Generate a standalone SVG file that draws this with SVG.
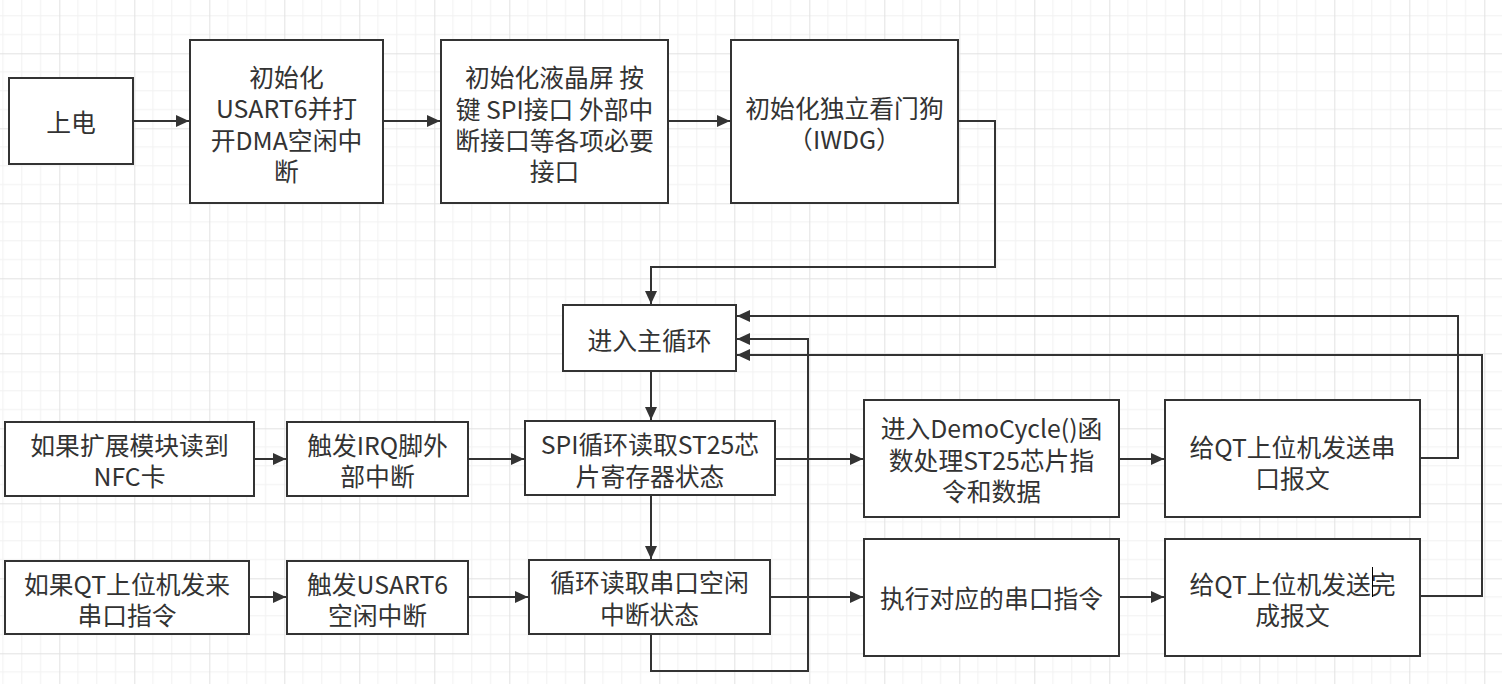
<svg xmlns="http://www.w3.org/2000/svg" width="1502" height="684" viewBox="0 0 1502 684">
<style>
.box{fill:#fff;stroke:#333;stroke-width:2}
.t{font-family:"Microsoft YaHei","Noto Sans CJK SC","Noto Sans",sans-serif;font-size:24.8px;fill:#333;text-anchor:middle;dominant-baseline:central}
.c{fill:none;stroke:#333;stroke-width:2}
.a{marker-end:url(#ar)}
</style>
<defs>
<pattern id="grid" patternUnits="userSpaceOnUse" x="59.3" y="53.3" width="75" height="75">
<path d="M18.75 0V75M37.5 0V75M56.25 0V75M0 18.75H75M0 37.5H75M0 56.25H75" stroke="#f1f1f1" stroke-width="1" fill="none"/>
<path d="M0.5 0V75M0 0.5H75" stroke="#e2e2e2" stroke-width="1" fill="none"/>
</pattern>
<marker id="ar" markerUnits="userSpaceOnUse" markerWidth="14" markerHeight="12" refX="13" refY="6" orient="auto">
<path d="M0 0L13 6L0 12z" fill="#333"/>
</marker>
</defs>
<rect width="1502" height="684" fill="#fff"/>
<rect width="1502" height="684" fill="url(#grid)"/>

<g id="connectors">
<path class="c a" d="M133 121H189"/>
<path class="c a" d="M383 121H440"/>
<path class="c a" d="M668 121H730"/>
<path class="c a" d="M958 121H995V267H651V304"/>
<path class="c a" d="M651 371V420"/>
<path class="c a" d="M254 459H286"/>
<path class="c a" d="M468 459H524"/>
<path class="c a" d="M775 459H863"/>
<path class="c a" d="M1119 459H1164"/>
<path class="c a" d="M1420 458H1458V316H737"/>
<path class="c a" d="M651 495V559"/>
<path class="c a" d="M249 597H286"/>
<path class="c a" d="M468 597H528"/>
<path class="c a" d="M770 597H863"/>
<path class="c a" d="M1119 597H1164"/>
<path class="c a" d="M1420 596H1482V355H737"/>
<path class="c a" d="M651 634V671H808V339H737"/>
</g>

<g id="n1"><rect class="box" x="9" y="78" width="124" height="86"/><text class="t" x="71" y="121">上电</text></g>
<g id="n2"><rect class="box" x="190" y="40" width="193" height="163"/>
<text class="t" x="286.5" y="76">初始化</text><text class="t" x="286.5" y="107">USART6并打</text><text class="t" x="286.5" y="139">开DMA空闲中</text><text class="t" x="286.5" y="170">断</text></g>
<g id="n3"><rect class="box" x="441" y="40" width="227" height="163"/>
<text class="t" x="554.5" y="76">初始化液晶屏 按</text><text class="t" x="554.5" y="108">键 SPI接口 外部中</text><text class="t" x="554.5" y="139">断接口等各项必要</text><text class="t" x="554.5" y="170">接口</text></g>
<g id="n4"><rect class="box" x="731" y="40" width="227" height="163"/>
<text class="t" x="844.5" y="107">初始化独立看门狗</text><text class="t" x="844.5" y="138">（IWDG）</text></g>
<g id="n5"><rect class="box" x="563" y="305" width="173" height="66"/><text class="t" x="649.5" y="339">进入主循环</text></g>
<g id="n6"><rect class="box" x="5" y="422" width="249" height="74"/>
<text class="t" x="129.5" y="444">如果扩展模块读到</text><text class="t" x="129.5" y="475">NFC卡</text></g>
<g id="n7"><rect class="box" x="287" y="422" width="181" height="74"/>
<text class="t" x="377.5" y="444">触发IRQ脚外</text><text class="t" x="377.5" y="475">部中断</text></g>
<g id="n8"><rect class="box" x="525" y="421" width="250" height="74"/>
<text class="t" x="650" y="443">SPI循环读取ST25芯</text><text class="t" x="650" y="475">片寄存器状态</text></g>
<g id="n9"><rect class="box" x="864" y="400" width="255" height="117"/>
<text class="t" x="991.5" y="427">进入DemoCycle()函</text><text class="t" x="991.5" y="459">数处理ST25芯片指</text><text class="t" x="991.5" y="490">令和数据</text></g>
<g id="n10"><rect class="box" x="1165" y="400" width="255" height="117"/>
<text class="t" x="1292.5" y="446">给QT上位机发送串</text><text class="t" x="1292.5" y="477">口报文</text></g>
<g id="n11"><rect class="box" x="5" y="561" width="244" height="73"/>
<text class="t" x="127" y="583">如果QT上位机发来</text><text class="t" x="127" y="614">串口指令</text></g>
<g id="n12"><rect class="box" x="287" y="561" width="181" height="73"/>
<text class="t" x="377.5" y="583">触发USART6</text><text class="t" x="377.5" y="614">空闲中断</text></g>
<g id="n13"><rect class="box" x="529" y="560" width="241" height="74"/>
<text class="t" x="649.5" y="581">循环读取串口空闲</text><text class="t" x="649.5" y="613">中断状态</text></g>
<g id="n14"><rect class="box" x="864" y="539" width="255" height="117"/>
<text class="t" x="991.5" y="597">执行对应的串口指令</text></g>
<g id="n15"><rect class="box" x="1165" y="539" width="255" height="117"/>
<text class="t" x="1292.5" y="583">给QT上位机发送完</text><text class="t" x="1292.5" y="614">成报文</text>
<line x1="1372.5" y1="567" x2="1372.5" y2="597" stroke="#000" stroke-width="1"/></g>
</svg>
